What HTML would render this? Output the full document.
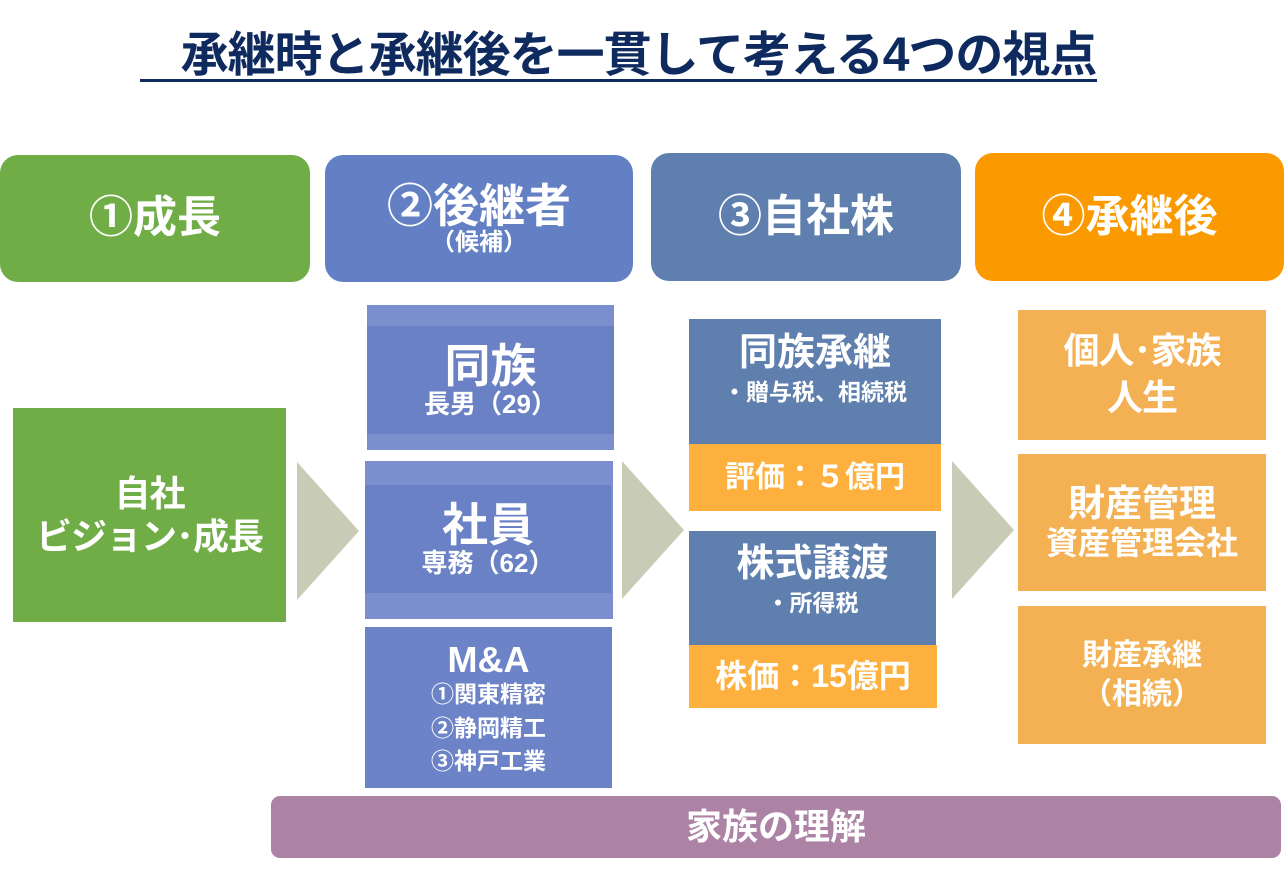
<!DOCTYPE html>
<html><head><meta charset="utf-8"><style>
*{margin:0;padding:0;box-sizing:border-box}
body{width:1284px;height:876px;background:#fff;position:relative;overflow:hidden;font-family:"Liberation Sans","Noto Sans CJK JP",sans-serif;font-weight:bold;color:#fff}
.b{position:absolute;display:flex;flex-direction:column;align-items:center;justify-content:center;text-align:center;line-height:1.2}
.tri{position:absolute;width:0;height:0;border-top:69px solid transparent;border-bottom:69px solid transparent;border-left:62px solid #c8ccb6}
</style></head><body>
<div style="position:absolute;left:140px;top:26px;width:957px;text-align:center;color:#0f2a5e;font-size:48px;line-height:60px;letter-spacing:-1px;padding-left:40px;white-space:nowrap">承継時と承継後を一貫して考える4つの視点</div>
<div style="position:absolute;left:140px;top:79px;width:957px;height:3px;background:#0f2a5e"></div>

<div class="b" style="left:0;top:155px;width:310px;height:127px;background:#70ad47;border-radius:18px;font-size:44px">①成長</div>
<div class="b" style="left:325px;top:155px;width:308px;height:127px;background:#6380c4;border-radius:18px;font-size:46px;line-height:1.05">②後継者<span style="font-size:24px">（候補）</span></div>
<div class="b" style="left:651px;top:153px;width:310px;height:128px;background:#5f7fae;border-radius:18px;font-size:44px">③自社株</div>
<div class="b" style="left:975px;top:153px;width:309px;height:128px;background:#fa9a00;border-radius:18px;font-size:44px">④承継後</div>

<div class="b" style="left:13px;top:408px;width:273px;height:214px;background:#70ad47;font-size:36px;letter-spacing:-1px">自社<br>ビジョン･成長</div>

<div class="tri" style="left:297px;top:462px"></div>
<div class="tri" style="left:622px;top:461px"></div>
<div class="tri" style="left:952px;top:461px"></div>

<div style="position:absolute;left:367px;top:305px;width:247px;height:145px;background:#7b8fcf"></div>
<div class="b" style="left:367px;top:326px;width:247px;height:108px;background:#6a81c5;font-size:46px;line-height:1.05">同族<span style="font-size:26px">長男（29）</span></div>
<div style="position:absolute;left:365px;top:461px;width:248px;height:158px;background:#7b8fcf"></div>
<div class="b" style="left:365px;top:485px;width:246px;height:108px;background:#6a81c5;font-size:46px;line-height:1.05">社員<span style="font-size:26px">専務（62）</span></div>
<div class="b" style="left:365px;top:627px;width:247px;height:161px;background:#6d83c7;font-size:36px;line-height:1.05;padding-top:4px">M&amp;A<span style="font-size:23px;line-height:1.45">①関東精密<br>②静岡精工<br>③神戸工業</span></div>

<div class="b" style="left:689px;top:319px;width:252px;height:125px;background:#5f7fae;font-size:38px;line-height:1.3;justify-content:flex-start;padding-top:10px">同族承継<span style="font-size:23px">・贈与税、相続税</span></div>
<div class="b" style="left:689px;top:444px;width:252px;height:67px;background:#fdb03d;font-size:30px">評価：５億円</div>
<div class="b" style="left:689px;top:531px;width:247px;height:114px;background:#5f7fae;font-size:38px;line-height:1.25;justify-content:flex-start;padding-top:10px">株式譲渡<span style="font-size:23px">・所得税</span></div>
<div class="b" style="left:689px;top:645px;width:248px;height:63px;background:#fdb03d;font-size:32px">株価：15億円</div>

<div class="b" style="left:1018px;top:310px;width:248px;height:130px;background:#f4b154;font-size:36px;line-height:1.3;letter-spacing:-1px">個人･家族<br>人生</div>
<div class="b" style="left:1018px;top:454px;width:248px;height:137px;background:#f4b154;font-size:37px;line-height:1.15">財産管理<span style="font-size:32px">資産管理会社</span></div>
<div class="b" style="left:1018px;top:606px;width:248px;height:138px;background:#f4b154;font-size:30px;line-height:1.3">財産承継<br>（相続）</div>

<div class="b" style="left:271px;top:796px;width:1010px;height:62px;background:#ad83a5;border-radius:9px;font-size:36px">家族の理解</div>
</body></html>
